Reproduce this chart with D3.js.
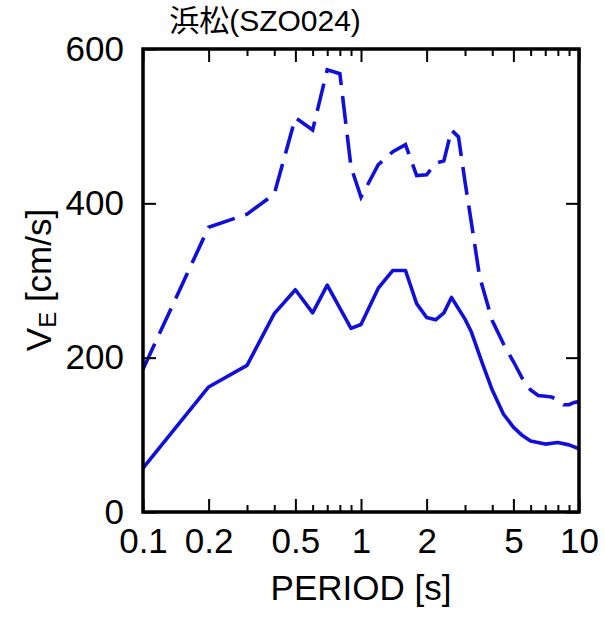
<!DOCTYPE html>
<html>
<head>
<meta charset="utf-8">
<script src="https://cdn.jsdelivr.net/npm/d3@7"></script>
<style>
  body { margin: 0; background: #fff; }
  text { font-family: "Liberation Sans", Arial, "Noto Sans CJK JP", sans-serif; fill: #000; }
</style>
</head>
<body>
<div id="chart"></div>
<script>
// data
var title = "浜松(SZO024)";
var xLabel = "PERIOD [s]";

// dashed curve
var dashPeriod = [0.1, 0.2, 0.3, 0.4, 0.5, 0.6, 0.7, 0.8, 0.9, 1.0, 1.2, 1.4, 1.6, 1.8, 2.0, 2.2, 2.4, 2.6, 2.8, 3.0, 3.2, 3.5, 4.0, 4.5, 5.0, 5.5, 6.0, 6.5, 7.0, 7.5, 8.0, 8.5, 9.0, 9.5, 10];
var dashV = [185, 369, 386, 412, 511, 495, 573, 568, 447, 408, 450, 467, 476, 436, 437, 452, 455, 495, 486, 428, 377, 305, 248, 218, 195, 173, 158, 151, 150, 149, 145, 139, 139, 142, 143];

// solid curve
var solidPeriod = [0.1, 0.2, 0.3, 0.4, 0.5, 0.6, 0.7, 0.9, 1.0, 1.2, 1.4, 1.6, 1.8, 2.0, 2.2, 2.4, 2.6, 3.0, 3.2, 3.6, 4.0, 4.5, 5.0, 5.5, 6.0, 7.0, 8.0, 9.0, 10];
var solidV = [57, 162, 190, 257, 288, 258, 294, 238, 243, 290, 313, 313, 270, 252, 249, 258, 278, 250, 234, 193, 158, 127, 110, 99, 92, 88, 90, 87, 82];

// ticks
var xMajor = [0.1, 0.2, 0.5, 1, 2, 5, 10];
var xMajorLabels = ["0.1", "0.2", "0.5", "1", "2", "5", "10"];
var xMinor = [0.3, 0.4, 0.6, 0.7, 0.8, 0.9, 3, 4, 6, 7, 8, 9];
var yTicks = [0, 200, 400, 600];

var svgWidth = 605;
var svgHeight = 617;

var margin = { top: 49, right: 26, bottom: 105, left: 143 };

var width = svgWidth - margin.left - margin.right;
var height = svgHeight - margin.top - margin.bottom;

var svg = d3.select("#chart").append("svg").attr("width", svgWidth).attr("height", svgHeight);

var chartGroup = svg.append("g")
  .attr("transform", `translate(${margin.left}, ${margin.top})`);

var xScale = d3.scaleLog().domain([0.1, 10]).range([0, width]);
var yScale = d3.scaleLinear().domain([0, 600]).range([height, 0]);

var lineColor = "#1010d8";

// curves (clipped to frame)
chartGroup.append("clipPath").attr("id", "clip")
  .append("rect").attr("width", width).attr("height", height);

var line = d3.line()
  .x(d => xScale(d[0]))
  .y(d => yScale(d[1]));

chartGroup.append("path")
  .datum(solidPeriod.map((p, i) => [p, solidV[i]]))
  .attr("clip-path", "url(#clip)")
  .attr("fill", "none")
  .attr("stroke", lineColor)
  .attr("stroke-width", 3.6)
  .attr("stroke-linejoin", "round")
  .attr("d", line);

chartGroup.append("path")
  .datum(dashPeriod.map((p, i) => [p, dashV[i]]))
  .attr("clip-path", "url(#clip)")
  .attr("fill", "none")
  .attr("stroke", lineColor)
  .attr("stroke-width", 3.6)
  .attr("stroke-dasharray", "28,11")
  .attr("d", line);

// axes, ticks point inward
function styleAxis(g) {
  g.select(".domain").remove();
  g.selectAll(".tick line").attr("stroke", "#000").attr("stroke-width", 2);
  g.selectAll("text").style("font-size", "35px").attr("fill", "#000")
    .style("font-family", "'Liberation Sans', Arial, sans-serif");
}

chartGroup.append("g").attr("transform", `translate(0, ${height})`)
  .call(d3.axisBottom(xScale).tickValues(xMajor).tickSize(-13).tickPadding(16)
    .tickFormat((d, i) => xMajorLabels[i]))
  .call(styleAxis);

chartGroup.append("g").attr("transform", `translate(0, ${height})`)
  .call(d3.axisBottom(xScale).tickValues(xMinor).tickSize(-7).tickFormat(""))
  .call(styleAxis);

chartGroup.append("g")
  .call(d3.axisTop(xScale).tickValues(xMajor).tickSize(-13).tickFormat(""))
  .call(styleAxis);

chartGroup.append("g")
  .call(d3.axisTop(xScale).tickValues(xMinor).tickSize(-7).tickFormat(""))
  .call(styleAxis);

chartGroup.append("g")
  .call(d3.axisLeft(yScale).tickValues(yTicks).tickSize(-13).tickPadding(19))
  .call(styleAxis);

chartGroup.append("g").attr("transform", `translate(${width}, 0)`)
  .call(d3.axisRight(yScale).tickValues(yTicks).tickSize(-13).tickFormat(""))
  .call(styleAxis);

// frame
chartGroup.append("rect")
  .attr("width", width)
  .attr("height", height)
  .attr("fill", "none")
  .attr("stroke", "#000")
  .attr("stroke-width", 3.5);

// title
svg.append("text")
  .attr("x", 265)
  .attr("y", 31)
  .attr("text-anchor", "middle")
  .style("font-size", "30px")
  .text(title);

// x label
svg.append("text")
  .attr("x", margin.left + width / 2)
  .attr("y", 600)
  .attr("text-anchor", "middle")
  .style("font-size", "35px")
  .text(xLabel);

// y label with subscript
var yLab = svg.append("text")
  .attr("transform", "translate(51, 280) rotate(-90)")
  .attr("text-anchor", "middle")
  .style("font-size", "35px");
yLab.append("tspan").text("V");
yLab.append("tspan").attr("dy", 5).style("font-size", "24px").text("E");
yLab.append("tspan").attr("dy", -5).text(" [cm/s]");
</script>
</body>
</html>
